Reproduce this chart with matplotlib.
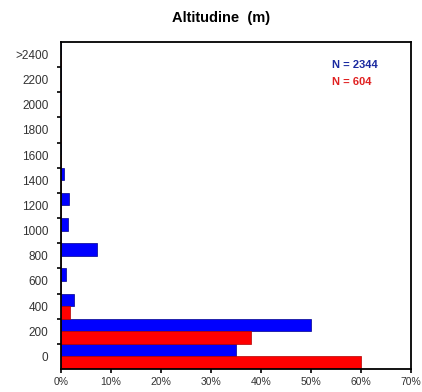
import numpy as np
import matplotlib
matplotlib.use('Agg')
import matplotlib.pyplot as plt

# altitude classes (m) and share of records in each class (%)
classes = ['0', '200', '400', '600', '800', '1000', '1200', '1400',
           '1600', '1800', '2000', '2200', '>2400']
blue_pct = [35.0, 50.0, 2.7, 1.0, 7.3, 1.4, 1.7, 0.6, 0, 0, 0, 0, 0]
red_pct = [60.0, 38.0, 1.9, 0, 0, 0, 0, 0, 0, 0, 0, 0, 0]
blue_label = 'N = 2344'
red_label = 'N = 604'
xticks = [0, 10, 20, 30, 40, 50, 60, 70]

plt.rcParams['font.family'] = ['Liberation Sans', 'DejaVu Sans']

fig = plt.figure(figsize=(4.22, 3.92), dpi=100)
ax = fig.add_axes([0.1445, 0.0587, 0.8295, 0.8343])

y = np.arange(len(classes))
ax.barh(y + 0.25, blue_pct, height=0.5, color='#0000ff',
        edgecolor='#00008b', linewidth=0.5)
ax.barh(y - 0.25, red_pct, height=0.5, color='#ff0000',
        edgecolor='#b00000', linewidth=0.5)

ax.set_xlim(0, 70)
ax.set_ylim(-0.5, len(classes) - 0.5)

ax.set_xticks(xticks)
ax.set_xticklabels([f'{v}%' for v in xticks])
ax.set_yticks(y)
ax.set_yticklabels(classes)
ax.set_yticks(y[:-1] + 0.5, minor=True)

ax.tick_params(axis='y', which='major', length=0, pad=9,
               labelsize=8.5, labelcolor='#333333')
ax.tick_params(axis='y', which='minor', length=3, width=1.2, direction='out')
ax.tick_params(axis='x', which='major', length=3, width=1.2, direction='out',
               labelsize=7.5, labelcolor='#333333', pad=3)

for s in ax.spines.values():
    s.set_linewidth(1.3)

ax.text(0.774, 0.93, blue_label, transform=ax.transAxes, color='#1a2aa0',
        fontsize=8, fontweight='bold', va='center')
ax.text(0.774, 0.876, red_label, transform=ax.transAxes, color='#e02020',
        fontsize=8, fontweight='bold', va='center')

fig.text(0.525, 0.955, 'Altitudine  (m)', ha='center', va='center',
         fontsize=10.5, fontweight='bold')

fig.savefig('out.png', dpi=100)
